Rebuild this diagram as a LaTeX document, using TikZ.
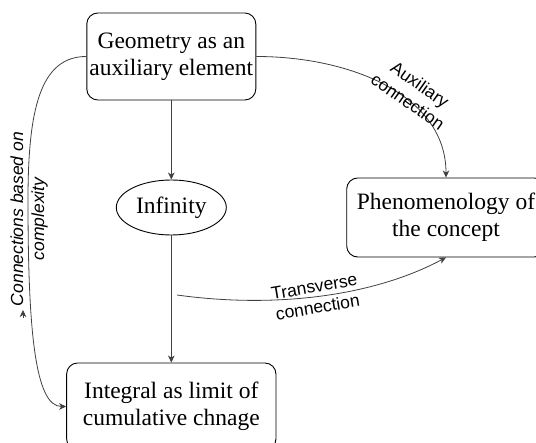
\documentclass[tikz,border=0pt]{standalone}
\usepackage{fontspec}
\setmainfont{Liberation Serif}
\newfontfamily\labelfont{Liberation Sans}
\usetikzlibrary{arrows.meta,shapes.geometric}

\begin{document}
\begin{tikzpicture}[x=1pt,y=-1pt,
  box/.style={draw=black, line width=0.9pt, rounded corners=11pt, align=center,
    inner sep=0pt, font=\fontsize{23.5}{27}\selectfont},
  oval/.style={draw=black, line width=0.9pt, ellipse, inner sep=0pt,
    minimum width=110pt, minimum height=55pt, font=\fontsize{23.5}{27}\selectfont},
  conn/.style={draw=black!75, line width=0.8pt,
    -{Stealth[length=7pt,width=6.5pt,inset=2pt]}},
  lbl/.style={align=center, inner sep=0pt, text=black,
    font=\labelfont\fontsize{17.5}{21}\selectfont}]

\useasboundingbox (0,0) rectangle (536,443);

% concepts
\node[box, minimum width=169pt, minimum height=87pt] (geo) at (171.3,56.5)
  {Geometry as an\\auxiliary element};
\node[oval] (inf) at (171.3,207.5) {Infinity};
\node[box, minimum width=198.6pt, minimum height=79pt] (phe) at (446,217.5)
  {Phenomenology of\\the concept};
\node[box, minimum width=209.3pt, minimum height=87pt] (int) at (171.3,406.5)
  {Integral as limit of\\cumulative chnage};

% straight links down the middle
\draw[conn] (geo.south) -- (inf.north);
\draw[conn] (inf.south) -- (int.north);

% curved links
\draw[conn] (geo.east) .. controls (350,56.5) and (446,95) .. (phe.north);
\coordinate (tvs) at (177,295);
\draw[conn] (tvs) .. controls (270,308) and (370,298) .. (phe.south);
\draw[conn] (geo.west) .. controls (40,56.5) and (28,110) .. (28,200)
  .. controls (28,330) and (35,406.5) .. (int.west);

% small loose arrowhead beside the left link
\coordinate (sa) at (23,318);
\coordinate (sb) at (23,310);
\draw[conn] (sa) -- (sb);

% link labels
\node[lbl, rotate=90] (lc) at (29,219)
  {\itshape Connections based on\\\itshape complexity};
\node[lbl, rotate=-35] (la) at (414,93) {Auxiliary\\connection};
\node[lbl, rotate=9.5] (lt) at (316,297) {Transverse\\connection};
\end{tikzpicture}
\end{document}
